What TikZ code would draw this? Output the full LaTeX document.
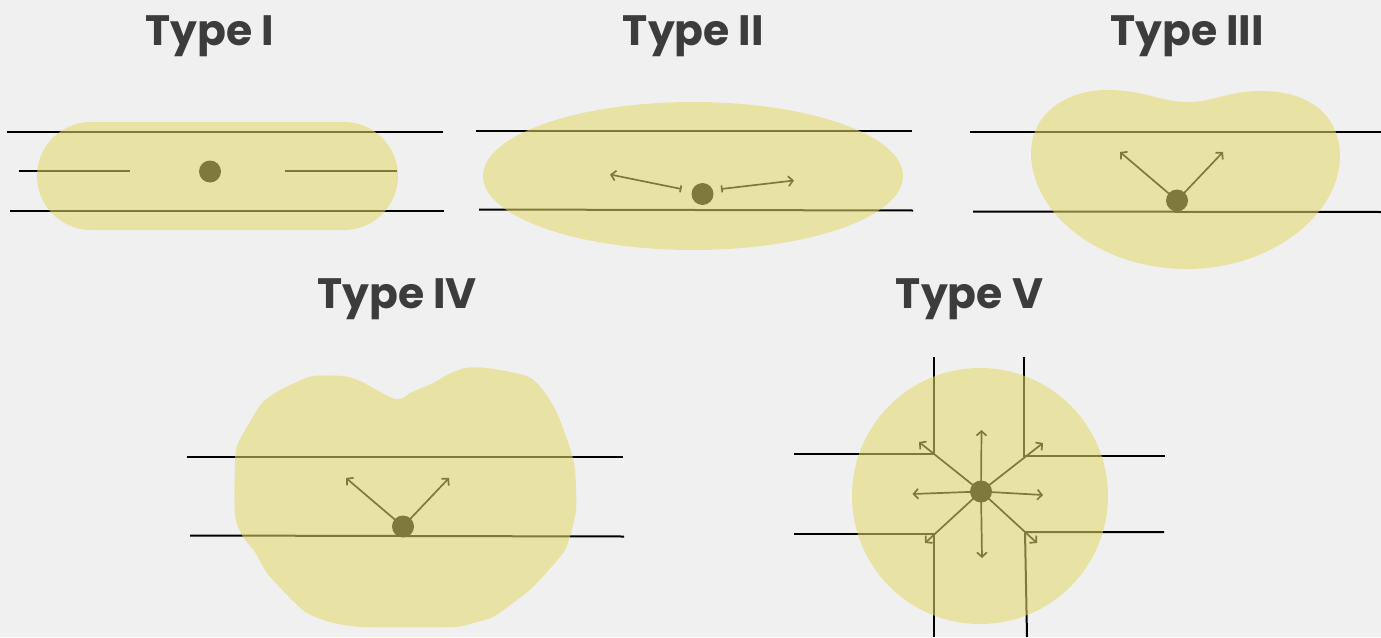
\documentclass[tikz,border=0pt]{standalone}
\usepackage{fontspec}
\newfontfamily\titlefont{Poppins}
\usetikzlibrary{arrows.meta}
\definecolor{pagebg}{RGB}{240,240,240}
\definecolor{titlegray}{RGB}{60,60,60}
\definecolor{zonefill}{RGB}{227,218,107}
\tikzset{
  boundary/.style={line width=2pt, black},
  motion/.style={line width=1.7pt, black, -{Straight Barb[length=4.5pt,width=10pt]}},
  pinned/.style={line width=1.7pt, black, {Bar[width=7pt]}-{Straight Barb[length=4.5pt,width=10pt]}},
  pivot/.style={circle, fill=black, inner sep=0pt, minimum size=22pt},
  zone/.style={fill=zonefill, fill opacity=0.56, draw=none},
  heading/.style={anchor=base, text=titlegray, font=\titlefont\bfseries\fontsize{42.5}{42.5}\selectfont}
}
\begin{document}
\begin{tikzpicture}[x=1pt, y=-1pt]
\fill[pagebg] (0,0) rectangle (1381,637);
\useasboundingbox (0,0) rectangle (1381,637);

% ---------- Type I ----------
\node[pivot] (p1) at (210,171.5) {};
\draw[boundary] (7,132) -- (443,132);
\draw[boundary] (10,211) -- (444,211);
\draw[boundary] (19,171) -- (130,171);
\draw[boundary] (285,171) -- (397,171);

% ---------- Type II ----------
\node[pivot] (p2) at (702.5,194) {};
\draw[boundary] (476,131) -- (912,131);
\draw[boundary] (479,209.5) -- (913,210.5);
\coordinate (p2l) at (681.5,189);
\coordinate (p2r) at (721,189);
\coordinate (t2l) at (610,174.5);
\coordinate (t2r) at (794,180.5);
\draw[pinned] (p2l) -- (t2l);
\draw[pinned] (p2r) -- (t2r);

% ---------- Type III ----------
\node[pivot] (p3) at (1177,200.5) {};
\draw[boundary] (970,132) -- (1381,132);
\draw[boundary] (973,211.5) -- (1381,212);
\coordinate (t3l) at (1120,152);
\coordinate (t3r) at (1223,152);
\draw[motion] (p3.center) -- (t3l);
\draw[motion] (p3.center) -- (t3r);

% ---------- Type IV ----------
\node[pivot] (p4) at (403,526.5) {};
\draw[boundary] (187,457) -- (623,457);
\draw[boundary] (190,535.5) -- (624,536.5);
\coordinate (t4l) at (346,478);
\coordinate (t4r) at (449,478);
\draw[motion] (p4.center) -- (t4l);
\draw[motion] (p4.center) -- (t4r);

% ---------- Type V ----------
\node[pivot] (p5) at (981,491.5) {};
\coordinate (c5a) at (933.5,454);
\coordinate (c5b) at (1024,455.5);
\coordinate (c5c) at (933.5,533.5);
\coordinate (c5d) at (1025,532);
\draw[boundary] (933.5,357) -- (c5a) -- (794,454);
\draw[boundary] (1024,357) -- (c5b) -- (1165,455.5);
\draw[boundary] (794,533.5) -- (c5c) -- (933.5,637);
\draw[boundary] (1164,532) -- (c5d) -- (1027,637);
\foreach \tip in {(981.5,430),(982,558),(912.5,494),(1043,495),(919,442),(1043,443),(925,543),(1037,543)}
  \draw[motion] (p5.center) -- \tip;

% ---------- translucent zones ----------
\fill[zone, rounded corners=54pt] (37,122) rectangle (398,230);
\fill[zone] (693,176) ellipse [x radius=210pt, y radius=74pt];
\fill[zone] (1031,153)
  .. controls (1031,114) and (1066,90) .. (1107,90)
  .. controls (1146,90) and (1160,102) .. (1187,102)
  .. controls (1215,102) and (1226,91) .. (1262,91)
  .. controls (1312,91) and (1340,118) .. (1340,156)
  .. controls (1340,214) and (1272,269) .. (1187,269)
  .. controls (1098,269) and (1031,212) .. (1031,153) -- cycle;
\fill[zone] plot[smooth cycle, tension=0.45] coordinates {
  (313,376) (343,376) (360,381) (392,398) (403,398) (410,393) (433,383)
  (447,375) (465,368) (487,368) (527,376) (543,390) (557,413) (570,448)
  (575,470) (576,510) (568,543) (560,557) (533,587) (513,603) (493,617)
  (473,623) (453,627) (363,627) (330,622) (307,613) (290,598) (267,573)
  (255,552) (243,537) (235,515) (235,460) (238,443) (247,427) (262,403)
  (280,390) (297,382)};
\fill[zone] (980,496) circle [radius=128pt];

% ---------- headings ----------
\node[heading] (h1) at (210,45.5) {Type I};
\node[heading] (h2) at (693.5,45.5) {Type II};
\node[heading] (h3) at (1187,45.5) {Type III};
\node[heading] (h4) at (397,308) {Type IV};
\node[heading] (h5) at (969.5,308) {Type V};
\end{tikzpicture}
\end{document}
